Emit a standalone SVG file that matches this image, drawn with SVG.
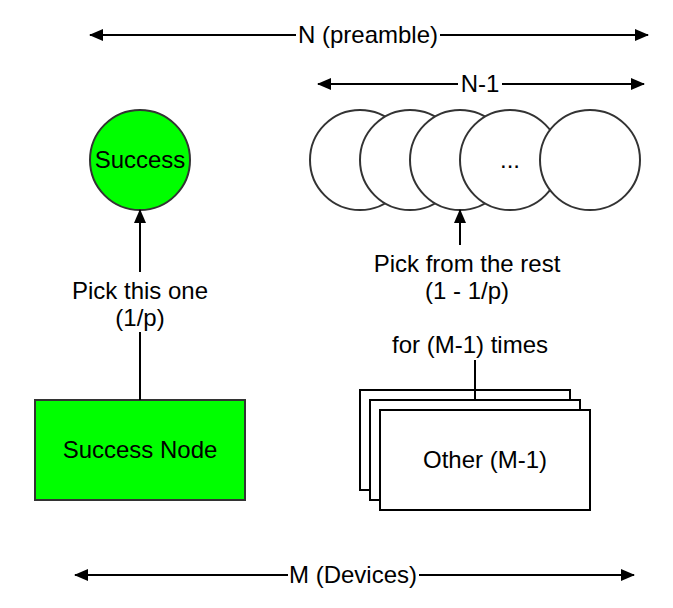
<svg xmlns="http://www.w3.org/2000/svg" width="673" height="608" viewBox="0 0 673 608">
<style>
text{font-family:"Liberation Sans",Arial,sans-serif;font-size:24px;fill:#000;text-anchor:middle}
.ln{stroke:#000;stroke-width:2;fill:none}
.c{fill:#fff;stroke:#333;stroke-width:2}
.g{fill:#00ff00;stroke:#333;stroke-width:2}
.r{fill:#fff;stroke:#000;stroke-width:2}
</style>
<defs>
<marker id="ah" viewBox="0 0 14 12" refX="13" refY="6" markerWidth="14" markerHeight="12" markerUnits="userSpaceOnUse" orient="auto-start-reverse">
<path d="M0,0 L14,6 L0,12 Z" fill="#000"/>
</marker>
</defs>
<rect width="673" height="608" fill="#fff"/>
<g id="success"><circle class="g" cx="140" cy="160" r="50"/><text x="140" y="168">Success</text></g>
<g id="circles">
<circle class="c" cx="360" cy="160" r="50"/>
<circle class="c" cx="410" cy="160" r="50"/>
<circle class="c" cx="460" cy="160" r="50"/>
<circle class="c" cx="510" cy="160" r="50"/>
<text x="510" y="168">...</text>
<circle class="c" cx="590" cy="160" r="50"/>
</g>
<g id="success-node"><rect class="g" x="35" y="400" width="210" height="100"/><text x="140" y="458">Success Node</text></g>
<g id="other">
<rect class="r" x="360" y="390" width="210" height="100"/>
<rect class="r" x="370" y="400" width="210" height="100"/>
<rect class="r" x="380" y="410" width="210" height="100"/>
<text x="485" y="468">Other (M-1)</text>
</g>
<g id="connectors">
<line class="ln" x1="296" y1="35" x2="90" y2="35" marker-end="url(#ah)"/>
<line class="ln" x1="440" y1="35" x2="648" y2="35" marker-end="url(#ah)"/>
<text x="368" y="43">N (preamble)</text>
<line class="ln" x1="458" y1="84" x2="318" y2="84" marker-end="url(#ah)"/>
<line class="ln" x1="502" y1="84" x2="644" y2="84" marker-end="url(#ah)"/>
<text x="480" y="92">N-1</text>
<line class="ln" x1="140" y1="272" x2="140" y2="210" marker-end="url(#ah)"/>
<line class="ln" x1="140" y1="332" x2="140" y2="400"/>
<text x="140" y="299">Pick this one</text>
<text x="140" y="326">(1/p)</text>
<line class="ln" x1="460" y1="245" x2="460" y2="210" marker-end="url(#ah)"/>
<text x="467" y="272">Pick from the rest</text>
<text x="467" y="299">(1 - 1/p)</text>
<text x="470" y="353">for (M-1) times</text>
<line class="ln" x1="475" y1="360" x2="475" y2="400"/>
<line class="ln" x1="288" y1="575" x2="75" y2="575" marker-end="url(#ah)"/>
<line class="ln" x1="419" y1="575" x2="634" y2="575" marker-end="url(#ah)"/>
<text x="353" y="583">M (Devices)</text>
</g>
</svg>
